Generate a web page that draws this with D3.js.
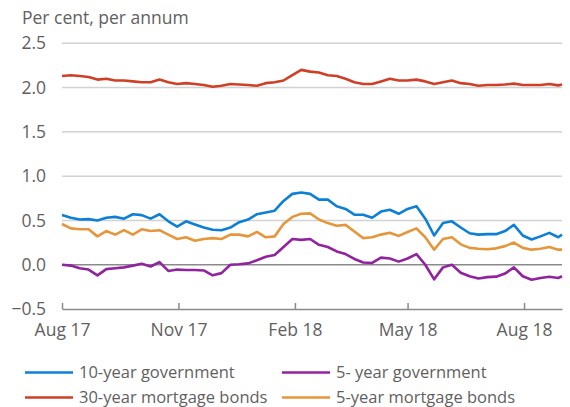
<!DOCTYPE html>
<html lang="en">
<head>
<meta charset="UTF-8">
<title>Interest rates</title>
<script src="https://d3js.org/d3.v7.min.js"></script>
<style>
    body { margin: 0; background: #fff; font-family: "Open Sans", sans-serif; }
    svg text { fill: #5f5f5f; }
</style>
</head>
<body>
<svg id="chart"></svg>
<script>
var dates = [
    "2017-08-01", "2017-08-08", "2017-08-15", "2017-08-22", "2017-08-29",
    "2017-09-05", "2017-09-12", "2017-09-19", "2017-09-26",
    "2017-10-03", "2017-10-10", "2017-10-17", "2017-10-24", "2017-10-31",
    "2017-11-07", "2017-11-14", "2017-11-21", "2017-11-28",
    "2017-12-05", "2017-12-12", "2017-12-19", "2017-12-26",
    "2018-01-02", "2018-01-09", "2018-01-16", "2018-01-23", "2018-01-30",
    "2018-02-06", "2018-02-13", "2018-02-20", "2018-02-27",
    "2018-03-06", "2018-03-13", "2018-03-20", "2018-03-27",
    "2018-04-03", "2018-04-10", "2018-04-17", "2018-04-24",
    "2018-05-01", "2018-05-08", "2018-05-15", "2018-05-22", "2018-05-29",
    "2018-06-05", "2018-06-12", "2018-06-19", "2018-06-26",
    "2018-07-03", "2018-07-10", "2018-07-17", "2018-07-24", "2018-07-31",
    "2018-08-07", "2018-08-14", "2018-08-21", "2018-08-28", "2018-08-31"
];

var gov10 = [
    0.56, 0.53, 0.51, 0.515, 0.50, 0.53, 0.54, 0.52, 0.57, 0.56,
    0.52, 0.57, 0.49, 0.43, 0.49, 0.455, 0.42, 0.395, 0.39, 0.42,
    0.48, 0.51, 0.57, 0.59, 0.61, 0.72, 0.80, 0.815, 0.80, 0.735,
    0.735, 0.66, 0.63, 0.565, 0.565, 0.53, 0.60, 0.62, 0.575, 0.63,
    0.66, 0.52, 0.33, 0.47, 0.49, 0.42, 0.355, 0.34, 0.345, 0.345,
    0.38, 0.45, 0.33, 0.285, 0.32, 0.36, 0.31, 0.34
];

var gov5 = [
    0.00, -0.01, -0.04, -0.055, -0.12, -0.05, -0.04, -0.03, -0.01, 0.01,
    -0.02, 0.03, -0.07, -0.055, -0.06, -0.06, -0.065, -0.12, -0.095, 0.00,
    0.005, 0.015, 0.05, 0.09, 0.11, 0.20, 0.29, 0.28, 0.29, 0.225,
    0.20, 0.15, 0.12, 0.065, 0.025, 0.02, 0.08, 0.07, 0.035, 0.07,
    0.12, 0.00, -0.165, -0.03, 0.00, -0.09, -0.13, -0.155, -0.14, -0.135,
    -0.10, -0.03, -0.13, -0.17, -0.15, -0.135, -0.15, -0.13
];

var mort30 = [
    2.13, 2.14, 2.13, 2.12, 2.09, 2.10, 2.08, 2.08, 2.07, 2.06,
    2.06, 2.09, 2.06, 2.04, 2.05, 2.04, 2.03, 2.01, 2.02, 2.04,
    2.035, 2.03, 2.02, 2.05, 2.06, 2.08, 2.14, 2.20, 2.18, 2.17,
    2.14, 2.13, 2.10, 2.06, 2.04, 2.04, 2.07, 2.10, 2.08, 2.08,
    2.09, 2.07, 2.04, 2.06, 2.08, 2.05, 2.04, 2.02, 2.03, 2.03,
    2.035, 2.045, 2.03, 2.03, 2.03, 2.04, 2.025, 2.035
];

var mort5 = [
    0.46, 0.41, 0.40, 0.40, 0.32, 0.38, 0.34, 0.39, 0.34, 0.40,
    0.38, 0.39, 0.34, 0.29, 0.31, 0.27, 0.29, 0.30, 0.29, 0.34,
    0.34, 0.32, 0.37, 0.31, 0.32, 0.46, 0.54, 0.575, 0.58, 0.51,
    0.47, 0.44, 0.45, 0.375, 0.30, 0.31, 0.34, 0.36, 0.325, 0.37,
    0.41, 0.31, 0.17, 0.29, 0.31, 0.23, 0.19, 0.18, 0.175, 0.185,
    0.21, 0.25, 0.19, 0.17, 0.18, 0.20, 0.17, 0.17
];

var series = [
    {name: "10-year government", values: gov10, color: "#0c7fd6"},
    {name: "5- year government", values: gov5, color: "#91239f"},
    {name: "30-year mortgage bonds", values: mort30, color: "#cf3f26"},
    {name: "5-year mortgage bonds", values: mort5, color: "#e6963a"}
];

var yTicks = [-0.5, 0, 0.5, 1, 1.5, 2, 2.5];
var xTicks = ["2017-08-01", "2017-11-01", "2018-02-01", "2018-05-01", "2018-08-01"];

var width = 570, height = 407;
var parse = d3.timeParse("%Y-%m-%d");

var svg = d3.select("#chart")
    .attr("width", width)
    .attr("height", height);

var x = d3.scaleTime()
    .domain([parse("2017-08-01"), parse("2018-08-31")])
    .range([62, 562]);

var y = d3.scaleLinear()
    .domain([-0.5, 2.5])
    .range([309, 43.3]);

// unit label
svg.append("text")
    .attr("x", 22)
    .attr("y", 24)
    .style("font-size", "17.5px")
    .text("Per cent, per annum");

// grid lines (the bottom one is the axis)
svg.append("g")
    .selectAll("line")
    .data(yTicks.filter(function(d) { return d > -0.5; }))
    .enter().append("line")
    .attr("x1", 62)
    .attr("x2", 562)
    .attr("y1", function(d) { return y(d); })
    .attr("y2", function(d) { return y(d); })
    .attr("stroke", function(d) { return d === 0 ? "#8a8a8a" : "#d2d2d2"; })
    .attr("stroke-width", 1.5);

// y labels
svg.append("g")
    .attr("transform", "translate(46,0)")
    .call(d3.axisLeft(y).tickValues(yTicks).tickSize(0).tickPadding(0)
        .tickFormat(d3.format(".1f")))
    .call(function(g) { g.select(".domain").remove(); })
    .call(function(g) {
        g.selectAll("text").style("font-size", "17.5px")
            .style("font-family", "'Open Sans', sans-serif").attr("fill", "#5f5f5f");
    });

// x axis
svg.append("g")
    .attr("transform", "translate(0," + y(-0.5) + ")")
    .call(d3.axisBottom(x)
        .tickValues(xTicks.map(parse))
        .tickSizeInner(-6)
        .tickSizeOuter(0)
        .tickPadding(15)
        .tickFormat(d3.timeFormat("%b %y")))
    .call(function(g) {
        g.select(".domain").attr("stroke", "#8a8a8a").attr("stroke-width", 1.5);
        g.selectAll(".tick line").attr("stroke", "#8a8a8a").attr("stroke-width", 1.5);
        g.selectAll("text").style("font-size", "17.5px")
            .style("font-family", "'Open Sans', sans-serif").attr("fill", "#5f5f5f");
    });

// lines
var line = d3.line()
    .x(function(d) { return x(d.date); })
    .y(function(d) { return y(d.value); });

var drawOrder = [series[2], series[0], series[3], series[1]];
svg.append("g")
    .selectAll("path")
    .data(drawOrder)
    .enter().append("path")
    .attr("fill", "none")
    .attr("stroke", function(d) { return d.color; })
    .attr("stroke-width", 2.6)
    .attr("stroke-linejoin", "round")
    .attr("d", function(s) {
        return line(s.values.map(function(v, i) {
            return {date: parse(dates[i]), value: v};
        }));
    });

// legend, two columns
var legend = svg.append("g")
    .selectAll("g")
    .data(series)
    .enter().append("g")
    .attr("transform", function(d, i) {
        return "translate(" + (i % 2 ? 282 : 25) + "," + (i < 2 ? 372.5 : 397.5) + ")";
    });

legend.append("line")
    .attr("x1", 0)
    .attr("x2", 48)
    .attr("stroke", function(d) { return d.color; })
    .attr("stroke-width", 2.6);

legend.append("text")
    .attr("x", 54)
    .attr("dy", "0.35em")
    .style("font-size", "16.5px")
    .text(function(d) { return d.name; });
</script>
</body>
</html>
